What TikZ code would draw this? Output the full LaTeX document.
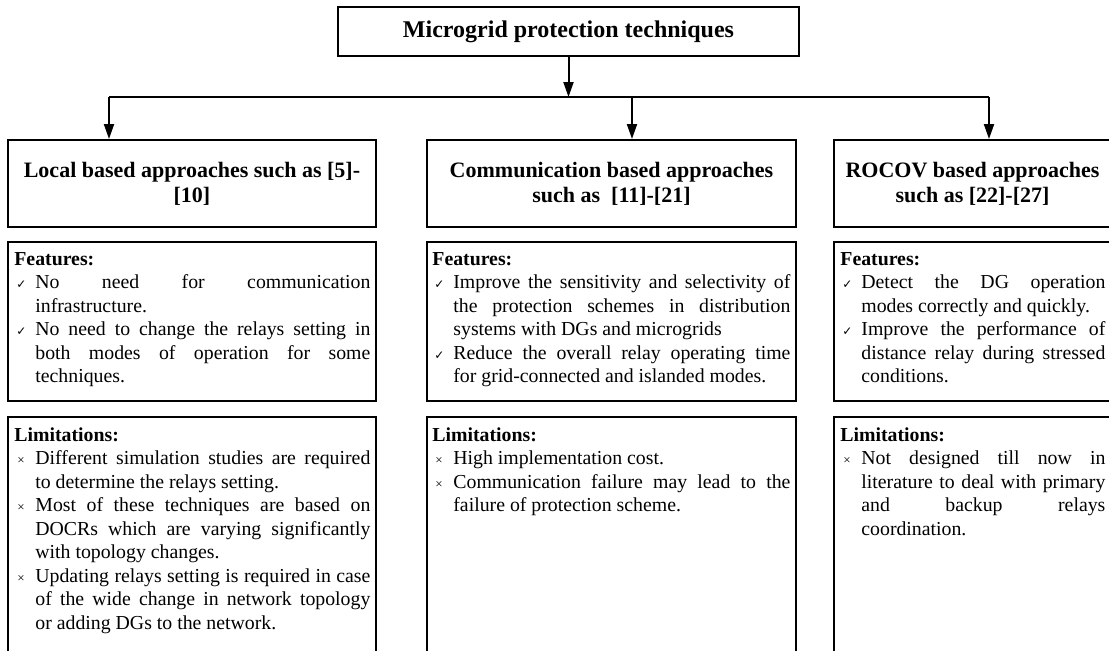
\documentclass[tikz,border=0pt]{standalone}
\usepackage{fontspec}
\setmainfont{Liberation Serif}
\newfontfamily\symfont{DejaVu Sans}
\usetikzlibrary{arrows.meta}
\tolerance=10000
\newcommand{\itm}[2]{\par\hangindent=10.5pt\hangafter=1\noindent\makebox[10.5pt][l]{#1}#2\par}
\newcommand{\yes}[1]{\itm{\hspace{1pt}{\symfont\fontsize{6}{6}\selectfont ✓}}{#1}}
\newcommand{\nope}[1]{\itm{\hspace{1.5pt}{\fontsize{6.5}{6}\selectfont ×}}{#1}}

\begin{document}
\begin{tikzpicture}
[every node/.style={inner sep=0pt},
 box/.style={draw, line width=1pt, rectangle},
 head/.style={align=center, font=\fontsize{11}{12.6}\selectfont\bfseries},
 list/.style={anchor=north west, align=justify, font=\fontsize{9.9}{11.75}\selectfont},
 link/.style={line width=1pt, -{Triangle[length=7.5pt,width=5pt]}}]
\useasboundingbox (0pt,0pt) rectangle (554.5pt,-325pt);
% top box and bus
\node (title) [box, minimum width=230.5pt, minimum height=24.5pt, font=\fontsize{12}{14}\selectfont\bfseries] at (284.25pt, -15.75pt) {Microgrid protection techniques};
\coordinate (busL) at (54.5pt, -48.5pt);
\coordinate (busM) at (316pt, -48.5pt);
\coordinate (busR) at (494.5pt, -48.5pt);
% approaches
\node (local) [box, head, minimum width=184pt, minimum height=43.5pt] at (96pt, -91.75pt) {Local based approaches such as [5]-\\{}[10]};
\node (comm) [box, head, minimum width=184.5pt, minimum height=43.5pt] at (305.75pt, -91.75pt) {Communication based approaches\\such as~~[11]-[21]};
\node (rocov) [box, head, minimum width=138.5pt, minimum height=43.5pt] at (486.25pt, -91.75pt) {ROCOV based approaches\\such as [22]-[27]};
% features
\node (featL) [box, minimum width=184pt, minimum height=79.5pt] at (96pt, -160.75pt) {};
\node (featM) [box, minimum width=184.5pt, minimum height=79.5pt] at (305.75pt, -160.75pt) {};
\node (featR) [box, minimum width=138.5pt, minimum height=79.5pt] at (486.25pt, -160.75pt) {};
% limitations
\node (limL) [box, minimum width=184pt, minimum height=119.5pt] at (96pt, -268.25pt) {};
\node (limM) [box, minimum width=184.5pt, minimum height=119.5pt] at (305.75pt, -268.25pt) {};
\node (limR) [box, minimum width=138.5pt, minimum height=119.5pt] at (486.25pt, -268.25pt) {};
% texts
\node (featLtxt) [list, text width=178pt, xshift=3.5pt, yshift=-5.5pt] at (featL.north west) {\noindent\textbf{Features:}
\yes{No need for communication\linebreak infrastructure.}
\yes{No need to change the relays setting in\linebreak both modes of operation for some\linebreak techniques.}};
\node (limLtxt) [list, text width=178pt, xshift=3.5pt, yshift=-5.5pt] at (limL.north west) {\noindent\textbf{Limitations:}
\nope{Different simulation studies are required\linebreak to determine the relays setting.}
\nope{Most of these techniques are based on\linebreak DOCRs which are varying significantly\linebreak with topology changes.}
\nope{Updating relays setting is required in case\linebreak of the wide change in network topology\linebreak or adding DGs to the network.}};
\node (featMtxt) [list, text width=179pt, xshift=3pt, yshift=-5.5pt] at (featM.north west) {\noindent\textbf{Features:}
\yes{Improve the sensitivity and selectivity of\linebreak the protection schemes in distribution\linebreak systems with DGs and microgrids}
\yes{Reduce the overall relay operating time\linebreak for grid-connected and islanded modes.}};
\node (limMtxt) [list, text width=179pt, xshift=3pt, yshift=-5.5pt] at (limM.north west) {\noindent\textbf{Limitations:}
\nope{High implementation cost.}
\nope{Communication failure may lead to the\linebreak failure of protection scheme.}};
\node (featRtxt) [list, text width=132.5pt, xshift=3.5pt, yshift=-5.5pt] at (featR.north west) {\noindent\textbf{Features:}
\yes{Detect the DG operation\linebreak modes correctly and quickly.}
\yes{Improve the performance of\linebreak distance relay during stressed\linebreak conditions.}};
\node (limRtxt) [list, text width=132.5pt, xshift=3.5pt, yshift=-5.5pt] at (limR.north west) {\noindent\textbf{Limitations:}
\nope{Not designed till now in\linebreak literature to deal with primary\linebreak and backup relays\linebreak coordination.}};
% connectors
\draw [link] (title.south) -- (title.south |- busL);
\draw [line width=1pt] (busL) -- (busR);
\draw [link] (busL) -- (busL |- local.north);
\draw [link] (busM) -- (busM |- comm.north);
\draw [link] (busR) -- (busR |- rocov.north);
\end{tikzpicture}
\end{document}
